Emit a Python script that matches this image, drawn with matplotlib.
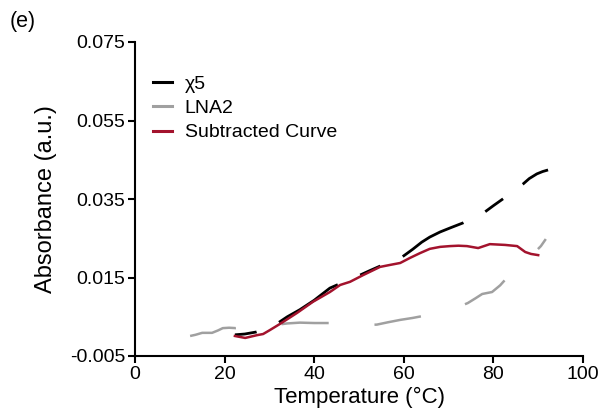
import matplotlib
matplotlib.use("Agg")
import matplotlib.pyplot as plt
from matplotlib.lines import Line2D
import numpy as np

plt.rcParams['font.family'] = ['Liberation Sans', 'DejaVu Sans']
plt.rcParams['lines.scale_dashes'] = False

# chi5 (black, dashed)
chi5_t = [22.3, 24.5, 27.0, 29.5, 31.9, 34.0, 36.8, 40.0, 43.5, 45.1, 47.6, 50.2, 52.5,
          54.7, 57.2, 59.6, 62.0, 64.0, 65.8, 68.1, 70.5, 73.2, 75.6, 78.1, 80.0, 82.1,
          84.4, 86.6, 88.0, 89.7, 91.0, 92.2]
chi5_a = [0.0004, 0.0006, 0.0011, 0.0020, 0.0034, 0.0050, 0.0068, 0.0092, 0.0123, 0.0131,
          0.0143, 0.0156, 0.0168, 0.0179, 0.0190, 0.0202, 0.0222, 0.0240, 0.0253, 0.0266,
          0.0277, 0.0289, 0.0303, 0.0317, 0.0333, 0.0350, 0.0369, 0.0388, 0.0402, 0.0414,
          0.0420, 0.0424]

# LNA2 (grey, dashed)
lna2_t = [12.3, 13.5, 15.0, 17.2, 18.5, 19.6, 21.0, 22.5, 25.0, 28.0, 30.0, 31.9, 34.0,
          36.8, 40.0, 43.5, 46.0, 49.0, 52.0, 54.0, 56.5, 59.2, 62.0, 64.3, 67.0, 70.0,
          72.0, 74.3, 76.0, 77.5, 79.7, 81.5, 83.0, 85.5, 88.0, 90.6, 91.7]
lna2_a = [0.0001, 0.0004, 0.0009, 0.0009, 0.0015, 0.0021, 0.0022, 0.0021, 0.0024, 0.0027,
          0.0029, 0.0030, 0.0033, 0.0035, 0.0034, 0.0034, 0.0032, 0.0030, 0.0029, 0.0030,
          0.0036, 0.0042, 0.0047, 0.0052, 0.0058, 0.0066, 0.0074, 0.0085, 0.0097, 0.0108,
          0.0113, 0.0130, 0.0149, 0.0175, 0.0200, 0.0230, 0.0248]

# Subtracted curve (red, solid)
sub_t = [22.3, 24.6, 27.2, 28.6, 30.1, 32.4, 36.2, 39.7, 43.5, 45.8, 48.0, 50.9, 54.7,
         56.9, 59.2, 61.4, 63.6, 65.8, 68.1, 70.3, 72.2, 74.1, 76.6, 79.2, 82.6, 85.3,
         87.1, 88.4, 90.0]
sub_a = [0.0001, -0.0004, 0.0003, 0.0006, 0.0016, 0.0032, 0.0060, 0.0088, 0.0113, 0.0131,
         0.0139, 0.0156, 0.0177, 0.0182, 0.0187, 0.0200, 0.0212, 0.0223, 0.0228, 0.0230,
         0.0231, 0.0230, 0.0225, 0.0235, 0.0233, 0.0230, 0.0215, 0.0210, 0.0207]

labels = ['χ5', 'LNA2', 'Subtracted Curve']
colors = ['#000000', '#A0A0A0', '#A3132D']
xticks = [0, 20, 40, 60, 80, 100]
yticks = [-0.005, 0.015, 0.035, 0.055, 0.075]

fig = plt.figure(figsize=(6.05, 4.13), dpi=100)
ax = fig.add_axes([135/605, 57/413, 448/605, 314/413])

ax.plot(chi5_t, chi5_a, color=colors[0], lw=2.0,
        linestyle=(0, (15.8, 17.6, 50.4, 17.6)), solid_capstyle='butt', dash_capstyle='butt')
ax.plot(lna2_t, lna2_a, color=colors[1], lw=1.8,
        linestyle=(0, (34, 33)), dash_capstyle='butt')
ax.plot(sub_t, sub_a, color=colors[2], lw=1.8)

ax.set_xlim(0, 100)
ax.set_ylim(-0.005, 0.075)
ax.set_xticks(xticks)
ax.set_yticks(yticks)
ax.set_xticklabels([str(v) for v in xticks])
ax.set_yticklabels([f'{v:.3f}' for v in yticks])
ax.tick_params(direction='out', length=5, width=1.5, labelsize=14, pad=2)
for s in ['top', 'right']:
    ax.spines[s].set_visible(False)
for s in ['left', 'bottom']:
    ax.spines[s].set_linewidth(1.5)

ax.set_xlabel('Temperature (°C)', fontsize=16, labelpad=3)
ax.set_ylabel('Absorbance (a.u.)', fontsize=17, labelpad=9)

handles = [Line2D([], [], color=c, lw=2.2) for c in colors]
ax.legend(handles, labels, loc='upper left', bbox_to_anchor=(0.0395, 0.895),
          frameon=False, fontsize=14, borderpad=0, borderaxespad=0,
          handlelength=1.0, handletextpad=0.65, labelspacing=0.35)

fig.text(10/605, 1 - 22/413, '(e)', fontsize=15.5, va='center', ha='left')

fig.savefig('out.png', dpi=100)
